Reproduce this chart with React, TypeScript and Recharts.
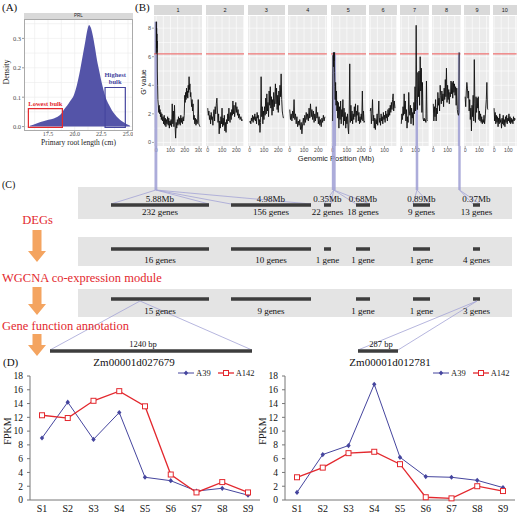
import React from 'react';
import {
  AreaChart, Area, LineChart, Line, ComposedChart, Scatter,
  XAxis, YAxis, CartesianGrid, ReferenceArea, ReferenceLine, Legend,
} from 'recharts';

const SERIF = '"Liberation Serif", "Times New Roman", serif';
const SANS = '"Liberation Sans", Arial, sans-serif';
const RED = '#e3282e';
const BLUE = '#45459e';
const FILL_BLUE = '#5454a8';
const BAND = '#9d9dd3';
const LINK = '#a3a3d6';
const ORANGE = '#f4a460';

// (A) density of primary root length
const rootLength = [15.8, 16.3, 16.8, 17.3, 17.8, 18.3, 18.7, 19.0, 19.3, 19.6, 19.9, 20.2, 20.5, 20.8, 21.0, 21.2, 21.35, 21.5, 21.7, 21.9, 22.1, 22.3, 22.5, 22.7, 22.9, 23.2, 23.5, 23.8, 24.1, 24.4, 24.7, 25.0, 25.2];
const rootDensity = [0.003, 0.009, 0.016, 0.021, 0.025, 0.032, 0.042, 0.058, 0.072, 0.088, 0.105, 0.14, 0.19, 0.25, 0.29, 0.33, 0.346, 0.338, 0.31, 0.27, 0.225, 0.19, 0.155, 0.125, 0.1, 0.075, 0.055, 0.04, 0.028, 0.019, 0.012, 0.006, 0.003];
const lowBulk = [15.66, 18.85, 0.061];
const highBulk = [22.85, 24.75, 0.133];

// (B) G' value along each chromosome, [position Mb, G']
const chromLen = [307, 244, 236, 247, 224, 174, 182, 181, 160, 150];
const chr1 = [[0,6.2],[1,8.45],[2,7.0],[3,8.0],[4,6.6],[5,7.6],[6,6.3],[7,7.1],[8,5.0],[10,4.0],[12,3.0],[15,2.6],[18,2.1],[21,2.6],[24,2.0],[27,2.3],[30,1.8],[33,2.1],[36,1.6],[40,2.0],[44,1.5],[48,1.8],[52,1.3],[56,1.9],[60,1.2],[64,1.7],[68,1.1],[72,1.6],[76,1.3],[80,1.8],[84,1.2],[88,1.7],[92,1.0],[96,1.5],[100,1.2],[104,1.6],[108,1.1],[112,2.7],[116,1.3],[120,2.2],[124,1.1],[128,2.6],[132,1.2],[136,0.3],[140,1.4],[144,1.0],[148,1.6],[152,1.2],[156,1.8],[160,1.3],[164,1.7],[168,1.2],[172,1.9],[176,1.4],[180,1.7],[184,1.3],[188,1.8],[192,1.5],[196,1.9],[200,3.3],[203,2.8],[206,3.5],[209,3.0],[212,3.8],[215,3.2],[218,3.6],[221,3.1],[224,4.0],[227,3.5],[230,4.6],[233,3.7],[236,4.1],[239,3.2],[242,3.5],[245,2.9],[248,2.5],[251,3.0],[254,2.2],[258,2.7],[262,1.6],[266,1.9],[270,1.3],[274,1.7],[278,1.2],[282,1.6],[286,1.3],[290,1.5],[294,3.0],[298,1.3],[302,1.2],[306,1.1]];
const chr2 = [[0,2.4],[4,1.9],[8,2.2],[12,1.6],[16,1.9],[20,1.3],[24,2.1],[28,1.6],[32,1.8],[36,1.2],[40,2.0],[44,2.3],[48,1.5],[52,2.5],[56,2.0],[60,2.7],[64,3.1],[68,2.2],[72,1.4],[76,2.0],[80,0.6],[84,1.5],[88,1.0],[92,1.8],[96,1.3],[100,2.4],[104,1.1],[108,1.7],[112,1.2],[116,1.9],[120,0.8],[124,1.4],[128,0.7],[132,1.6],[136,1.3],[140,2.0],[144,1.5],[148,2.4],[152,1.7],[156,1.4],[160,2.1],[164,1.6],[168,2.3],[172,1.9],[176,2.9],[180,2.0],[184,2.6],[188,1.8],[192,2.2],[196,2.8],[200,2.1],[204,2.5],[208,1.9],[212,2.3],[216,1.7],[220,2.0],[226,1.6],[232,1.8],[238,1.5],[243,1.6]];
const chr3 = [[0,1.4],[4,1.5],[8,1.3],[12,1.7],[16,1.5],[20,1.9],[24,1.4],[28,1.8],[32,1.6],[36,2.0],[40,1.5],[44,1.8],[48,1.3],[52,2.1],[56,1.7],[60,1.9],[64,1.2],[68,1.6],[72,0.7],[76,1.4],[80,4.6],[84,1.8],[88,2.5],[92,1.3],[96,2.2],[100,1.6],[104,2.5],[108,1.9],[112,3.1],[116,2.0],[120,3.4],[124,2.2],[128,2.8],[132,1.8],[136,3.6],[140,2.6],[144,3.9],[148,2.4],[152,3.2],[156,1.9],[160,3.0],[164,2.2],[168,3.5],[172,2.5],[176,3.1],[180,4.1],[184,2.7],[188,3.8],[192,2.3],[196,3.3],[200,2.1],[204,3.6],[208,2.6],[212,4.0],[216,3.2],[220,4.8],[224,3.0],[228,2.2],[232,1.9],[236,1.7]];
const chr4 = [[0,2.3],[5,1.6],[10,2.0],[15,1.5],[20,2.2],[25,1.7],[30,3.0],[35,1.6],[40,2.0],[45,1.3],[50,1.8],[55,1.1],[60,1.5],[65,1.2],[70,1.6],[75,0.9],[80,1.4],[85,0.6],[90,1.3],[95,1.7],[100,1.2],[105,1.9],[110,1.4],[115,2.1],[120,1.6],[125,2.0],[130,1.5],[135,2.4],[140,1.7],[145,2.7],[150,1.8],[155,2.3],[160,1.6],[165,2.2],[170,1.4],[175,2.0],[180,1.5],[185,2.5],[190,1.7],[195,2.1],[200,1.3],[205,1.8],[210,1.2],[215,1.6],[220,1.1],[225,1.7],[230,1.4],[235,1.9],[240,1.5],[246,1.8]];
const chr5 = [[0,1.5],[2,4.8],[4,6.1],[6,5.3],[8,6.3],[10,5.7],[12,6.3],[14,4.9],[16,3.9],[18,3.0],[21,4.2],[24,2.6],[27,3.6],[30,2.2],[33,2.9],[36,1.7],[40,2.8],[44,1.0],[48,2.5],[52,1.6],[56,2.9],[60,1.3],[64,2.3],[68,1.8],[72,3.0],[76,1.2],[80,2.4],[84,1.5],[88,2.1],[92,1.0],[96,1.8],[100,1.3],[104,2.0],[108,1.0],[112,0.6],[116,2.0],[120,5.5],[124,1.4],[128,2.6],[132,1.5],[136,2.2],[140,1.3],[144,2.0],[148,1.6],[152,2.5],[156,1.8],[160,2.7],[164,1.4],[168,2.2],[172,1.9],[176,2.6],[180,1.5],[184,2.1],[188,1.3],[192,1.8],[196,1.4],[200,2.0],[204,1.6],[208,3.6],[212,1.5],[216,2.2],[220,1.4],[223,1.5]];
const chr6 = [[0,2.2],[4,2.4],[8,1.3],[12,2.0],[16,3.0],[20,1.5],[24,1.9],[28,1.0],[32,1.7],[36,0.9],[40,1.6],[44,1.3],[48,2.0],[52,1.2],[56,1.9],[60,2.9],[64,1.4],[68,1.7],[72,1.2],[76,2.0],[80,1.5],[84,1.8],[88,1.3],[92,2.1],[96,1.6],[100,1.9],[104,1.4],[108,2.2],[112,1.7],[116,2.0],[120,1.5],[124,2.3],[128,1.8],[132,2.4],[136,1.9],[140,2.6],[144,2.1],[148,2.8],[152,2.3],[156,3.0],[160,3.4],[164,2.2],[168,2.9],[173,2.4]];
const chr7 = [[0,1.3],[4,2.0],[8,1.6],[12,2.5],[16,1.9],[20,3.4],[24,2.0],[28,2.9],[32,1.5],[36,2.3],[40,1.0],[44,1.8],[48,1.4],[52,3.5],[56,2.2],[60,1.9],[64,2.6],[68,1.3],[72,2.4],[76,1.7],[80,2.1],[84,1.2],[88,2.8],[92,2.0],[96,3.9],[100,2.2],[104,8.2],[108,3.0],[112,2.3],[116,4.9],[120,3.2],[124,5.0],[128,2.6],[132,6.0],[136,3.6],[140,5.2],[144,2.1],[148,4.2],[152,1.7],[156,1.5],[160,1.7],[164,1.5],[168,1.6],[172,1.4],[176,4.3],[180,1.6],[182,1.5]];
const chr8 = [[0,2.7],[4,1.5],[8,2.5],[12,1.8],[16,3.0],[20,1.5],[24,2.4],[28,2.0],[32,3.5],[36,2.6],[40,3.1],[44,2.2],[48,4.0],[52,3.3],[56,2.7],[60,3.6],[64,2.9],[68,3.4],[72,2.5],[76,3.8],[80,3.0],[84,4.4],[88,3.2],[92,5.2],[96,2.8],[100,4.0],[104,3.0],[108,3.7],[112,2.7],[116,3.5],[120,3.2],[124,4.3],[128,3.4],[132,4.2],[136,3.1],[140,4.3],[144,3.5],[148,4.1],[152,3.3],[156,3.9],[160,2.6],[164,3.8],[168,2.3],[172,2.0],[176,1.9],[179,2.1],[181,6.3]];
const chr9 = [[0,3.2],[4,2.5],[8,3.6],[12,4.2],[16,3.8],[20,3.1],[24,3.6],[28,2.2],[32,3.0],[36,1.6],[40,2.4],[44,0.8],[48,2.6],[52,1.8],[56,3.3],[60,1.5],[64,5.8],[68,2.7],[72,1.4],[76,3.2],[80,2.1],[84,3.1],[88,2.4],[92,3.2],[96,1.6],[100,2.2],[104,1.5],[108,2.0],[112,1.4],[116,1.8],[120,1.3],[124,1.6],[128,1.4],[132,1.9],[136,1.3],[140,1.7],[144,2.4],[148,3.0],[152,4.2],[156,2.4],[159,2.3]];
const chr10 = [[0,2.4],[4,1.5],[8,2.1],[12,1.3],[16,1.9],[20,1.4],[24,1.8],[28,1.1],[32,1.7],[36,1.3],[40,2.0],[44,1.4],[48,1.6],[52,1.0],[56,1.7],[60,1.3],[64,1.9],[68,1.2],[72,1.6],[76,1.1],[80,1.8],[84,1.4],[88,1.9],[92,1.3],[96,1.7],[100,1.5],[104,2.0],[108,1.4],[112,1.8],[116,1.3],[120,1.7],[124,1.4],[128,1.6],[132,1.3],[136,1.8],[140,1.5],[144,1.7],[148,1.6]];
const gPrime = [chr1, chr2, chr3, chr4, chr5, chr6, chr7, chr8, chr9, chr10];
const gThreshold = 6.2;
const peakChrom = [1, 5, 7, 8];
const peakStart = [-12, -3, 99, 172];
const peakEnd = [8, 24, 117, 189];
const peakTop = [8.45, 6.3, 3.0, 6.3];

// (C) candidate regions and filtering steps
const regionSize = ['5.88Mb', '4.98Mb', '0.35Mb', '0.68Mb', '0.89Mb', '0.37Mb'];
const regionGenes = [232, 156, 22, 18, 9, 13];
const degGenes = [16, 10, 1, 1, 1, 4];
const moduleGenes = [15, 9, 0, 1, 1, 3];
const regionChrom = [1, 1, 5, 5, 7, 8];
const regionStart = [111, 231, 324, 356, 413, 473];
const regionEnd = [209, 311, 331, 370, 430, 480];
const steps = ['DEGs', 'WGCNA co-expression module', 'Gene function annotation'];
const geneIds = ['Zm00001d027679', 'Zm00001d012781'];
const geneLength = ['1240 bp', '287 bp'];
const geneFrom = [140, 477];
const geneBarStart = [50, 358];
const geneBarEnd = [252, 398];

// (D) expression
const stages = ['S1', 'S2', 'S3', 'S4', 'S5', 'S6', 'S7', 'S8', 'S9'];
const a39Gene1 = [9.0, 14.2, 8.8, 12.7, 3.3, 2.8, 1.3, 1.7, 0.7];
const a142Gene1 = [12.3, 11.9, 14.4, 15.8, 13.6, 3.7, 1.1, 2.6, 1.1];
const a39Gene2 = [1.1, 6.6, 7.9, 16.8, 6.2, 3.4, 3.3, 2.85, 1.8];
const a142Gene2 = [3.3, 4.7, 6.8, 7.0, 5.2, 0.4, 0.24, 2.0, 1.3];

// facet layout for (B)
const B_LEFT = 154, B_PX = 0.143, B_GAP = 3.5;
const facetWidth = (i: number) => chromLen[i] * 1.1 * B_PX;
const facetLeft = chromLen.map((_, i) => {
  let x = B_LEFT;
  for (let j = 0; j < i; j++) x += facetWidth(j) + B_GAP;
  return x;
});
const mbToPx = (chrom: number, mb: number) => facetLeft[chrom - 1] + (mb + 0.05 * chromLen[chrom - 1]) * B_PX;

function VText({ x, y, text, size, font }: { x: number; y: number; text: string; size: number; font: string }) {
  return (
    <div style={{ position: 'absolute', left: x - 50, top: y - 6, width: 100, height: 12, lineHeight: '12px', textAlign: 'center', transform: 'rotate(-90deg)', fontSize: size, fontFamily: font, color: '#222' }}>
      {text}
    </div>
  );
}

function BulkLabel(props: any) {
  const { viewBox, lines, color } = props;
  const cx = viewBox.x + viewBox.width / 2;
  return (
    <text x={cx} y={viewBox.y - 3 - (lines.length - 1) * 7} textAnchor="middle" fontSize={6.5} fontWeight="bold" fill={color} fontFamily={SERIF}>
      {lines.map((l: string, i: number) => <tspan key={i} x={cx} dy={i === 0 ? 0 : 7}>{l}</tspan>)}
    </text>
  );
}

function DensityPanel() {
  const data = rootLength.map((len, i) => ({ len, d: rootDensity[i] }));
  return (
    <>
      <div style={{ position: 'absolute', left: 24, top: 13, width: 109, height: 6, background: '#d9d9d9', borderBottom: '0.7px solid #333', fontSize: 4.5, lineHeight: '6px', textAlign: 'center', fontFamily: SANS, color: '#222' }}>PRL</div>
      <div style={{ position: 'absolute', left: 0, top: 19 }}>
        <AreaChart width={133} height={127} data={data} margin={{ top: 0, right: 0, bottom: 0, left: 0 }}>
          <CartesianGrid stroke="#ebebeb" strokeWidth={0.6} horizontalValues={[0, 0.05, 0.1, 0.15, 0.2, 0.25, 0.3, 0.35]} verticalValues={[16.25, 17.5, 18.75, 20, 21.25, 22.5, 23.75, 25]} />
          <XAxis type="number" dataKey="len" domain={[15.25, 25.47]} allowDataOverflow ticks={[17.5, 20, 22.5, 25]} interval={0}
            tickFormatter={(v: number) => v.toFixed(1)} height={15} tickSize={1.5} tickMargin={-0.5} axisLine={false}
            tickLine={{ stroke: '#333', strokeWidth: 0.5 }} tick={{ fontSize: 6, fill: '#4d4d4d', fontFamily: SERIF }} />
          <YAxis type="number" domain={[-0.015, 0.366]} allowDataOverflow ticks={[0, 0.1, 0.2, 0.3]} interval={0}
            tickFormatter={(v: number) => v.toFixed(1)} width={24} tickSize={2} tickMargin={1} axisLine={false}
            tickLine={{ stroke: '#333', strokeWidth: 0.5 }} tick={{ fontSize: 6.5, fill: '#4d4d4d', fontFamily: SERIF }} />
          <Area type="monotone" dataKey="d" fill={FILL_BLUE} fillOpacity={1} stroke="none" isAnimationActive={false} />
          <ReferenceArea x1={lowBulk[0]} x2={lowBulk[1]} y1={-0.003} y2={lowBulk[2]} fillOpacity={0} stroke={RED} strokeWidth={1.2}
            label={<BulkLabel lines={['Lowest bulk']} color={RED} />} />
          <ReferenceArea x1={highBulk[0]} x2={highBulk[1]} y1={-0.003} y2={highBulk[2]} fillOpacity={0} stroke={BLUE} strokeWidth={1.2}
            label={<BulkLabel lines={['Highest', 'bulk']} color={BLUE} />} />
        </AreaChart>
      </div>
      <div style={{ position: 'absolute', left: 24, top: 19, width: 109, height: 112, border: '0.6px solid #aaa', boxSizing: 'border-box' }} />
      <VText x={7} y={72} text="Density" size={8} font={SERIF} />
      <div style={{ position: 'absolute', left: 24, top: 138, width: 109, textAlign: 'center', fontSize: 7.5, lineHeight: '9px', fontFamily: SERIF, color: '#222' }}>Primary root length (cm)</div>
    </>
  );
}

function Facet({ i }: { i: number }) {
  const len = chromLen[i];
  const w = facetWidth(i);
  const yw = i === 0 ? 22 : 0;
  const data = gPrime[i].map(([pos, g]) => ({ pos, g }));
  const major = len >= 300 ? [0, 100, 200, 300] : len >= 200 ? [0, 100, 200] : [0, 100];
  const minor = [50, 150, 250].filter((v) => v < len * 1.05);
  const peaks = peakChrom.map((c, k) => (c === i + 1 ? k : -1)).filter((k) => k >= 0);
  return (
    <>
      <div style={{ position: 'absolute', left: facetLeft[i], top: 5, width: w, height: 10, background: '#d9d9d9', fontSize: 5.5, lineHeight: '10px', textAlign: 'center', fontFamily: SANS, color: '#1a1a1a' }}>{i + 1}</div>
      <div style={{ position: 'absolute', left: facetLeft[i] - yw, top: 16 }}>
        <LineChart width={w + yw} height={141} data={data} margin={{ top: 0, right: 0, bottom: 0, left: 0 }}>
          <CartesianGrid fill="#ebebeb" stroke="#ffffff" strokeWidth={0.6} horizontalValues={[0, 1, 2, 3, 4, 5, 6, 7, 8]} verticalValues={[...major, ...minor]} />
          <XAxis type="number" dataKey="pos" domain={[-0.05 * len, 1.05 * len]} allowDataOverflow ticks={major} interval={0}
            tickSize={2} tickMargin={0.5} height={11} axisLine={false} tickLine={{ stroke: '#4d4d4d', strokeWidth: 0.5 }}
            tick={{ fontSize: 5.2, fill: '#4d4d4d', fontFamily: SANS }} />
          <YAxis type="number" hide={i !== 0} width={yw} domain={[-0.25, 8.85]} allowDataOverflow ticks={[0, 2, 4, 6, 8]} interval={0}
            tickSize={2} tickMargin={1} axisLine={false} tickLine={{ stroke: '#4d4d4d', strokeWidth: 0.5 }}
            tick={{ fontSize: 5.5, fill: '#4d4d4d', fontFamily: SANS }} />
          {peaks.map((k) => (
            <ReferenceArea key={k} x1={peakStart[k]} x2={peakEnd[k]} y1={-0.25} y2={peakTop[k]} fill={BAND} fillOpacity={0.85} stroke="none" ifOverflow="hidden" />
          ))}
          <ReferenceLine y={gThreshold} stroke="#ef7777" strokeWidth={1.3} />
          <Line type="linear" dataKey="g" stroke="#111" strokeWidth={0.9} dot={false} isAnimationActive={false} />
        </LineChart>
      </div>
    </>
  );
}

const Diamond = ({ cx, cy }: { cx: number; cy: number }) => (
  <path d={`M${cx},${cy - 2.6} L${cx + 2.2},${cy} L${cx},${cy + 2.6} L${cx - 2.2},${cy} Z`} fill={BLUE} />
);
const Square = ({ cx, cy }: { cx: number; cy: number }) => (
  <rect x={cx - 2.5} y={cy - 2.5} width={5} height={5} fill="#fff" stroke={RED} strokeWidth={1} />
);

const FpkmLegend = () => (
  <div style={{ display: 'flex', alignItems: 'center', fontFamily: SERIF, fontSize: 8.5, color: '#222', whiteSpace: 'nowrap', lineHeight: '10px' }}>
    <svg width={16} height={8}><line x1={0} y1={4} x2={16} y2={4} stroke={BLUE} /><Diamond cx={8} cy={4} /></svg>
    <span style={{ marginLeft: 2, marginRight: 7 }}>A39</span>
    <svg width={16} height={8}><line x1={0} y1={4} x2={16} y2={4} stroke={RED} strokeWidth={1.3} /><Square cx={8} cy={4} /></svg>
    <span style={{ marginLeft: 2 }}>A142</span>
  </div>
);

function FpkmChart({ left, a39, a142 }: { left: number; a39: number[]; a142: number[] }) {
  const data = stages.map((stage, i) => ({ stage, A39: a39[i], A142: a142[i] }));
  return (
    <>
      <div style={{ position: 'absolute', left, top: 365 }}>
        <LineChart width={262} height={149} data={data} margin={{ top: 11, right: 2, bottom: 0, left: 0 }}>
          <XAxis dataKey="stage" padding={{ left: 12, right: 12 }} height={14} tickSize={3} tickMargin={2} tickLine={false} interval={0}
            axisLine={{ stroke: '#777' }} tick={{ fontSize: 10, fill: '#111', fontFamily: SERIF }} />
          <YAxis type="number" domain={[0, 18]} ticks={[0, 2, 4, 6, 8, 10, 12, 14, 16, 18]} interval={0} width={30} tickSize={3} tickMargin={4}
            axisLine={{ stroke: '#777' }} tickLine={{ stroke: '#777' }} tick={{ fontSize: 9.5, fill: '#111', fontFamily: SERIF }} />
          <Legend layout="horizontal" verticalAlign="middle" align="center" content={FpkmLegend}
            wrapperStyle={{ top: 3, left: 178, width: 90, height: 12 }} />
          <Line type="linear" dataKey="A39" stroke={BLUE} strokeWidth={1} isAnimationActive={false}
            dot={(p: any) => <Diamond key={p.index} cx={p.cx} cy={p.cy} />} />
          <Line type="linear" dataKey="A142" stroke={RED} strokeWidth={1.3} isAnimationActive={false}
            dot={(p: any) => <Square key={p.index} cx={p.cx} cy={p.cy} />} />
        </LineChart>
      </div>
      <VText x={left + 8} y={431} text="FPKM" size={10} font={SERIF} />
    </>
  );
}

// schematic rows of (C)
const ROW_BAND = [[187, 219], [237, 266], [289, 317]];
const ROW_BAR = [205, 249, 299];
const ROW_LABEL = [212, 260, 311];
const TRACK = [78, 512];
const LINK_TOP = 190;

const regionMid = regionStart.map((s, i) => (s + regionEnd[i]) / 2);
const genesText = (n: number) => `${n} ${n === 1 ? 'gene' : 'genes'}`;
const rowCounts = [regionGenes, degGenes, moduleGenes];
const peakCenterPx = (chrom: number) => {
  const k = peakChrom.indexOf(chrom);
  return (mbToPx(chrom, peakStart[k]) + mbToPx(chrom, peakEnd[k])) / 2;
};

const textItems = [
  { x: 2, y: 7, text: '(A)', size: 11, anchor: 'start' },
  { x: 135, y: 7, text: '(B)', size: 11, anchor: 'start' },
  { x: 2, y: 184, text: '(C)', size: 10, anchor: 'start' },
  { x: 3, y: 362, text: '(D)', size: 11, anchor: 'start' },
  ...regionSize.map((t, i) => ({ x: regionMid[i], y: 199, text: t, size: 9 })),
  ...rowCounts.flatMap((counts, r) =>
    counts.flatMap((n, i) => (n ? [{ x: regionMid[i], y: ROW_LABEL[r], text: genesText(n), size: 9 }] : []))),
  { x: 37.5, y: 220, text: steps[0], size: 12.5, color: RED },
  { x: 2, y: 278, text: steps[1], size: 12.5, color: RED, anchor: 'start' },
  { x: 2, y: 326, text: steps[2], size: 12.5, color: RED, anchor: 'start' },
  { x: 143, y: 344, text: geneLength[0], size: 8.5 },
  { x: 381, y: 344, text: geneLength[1], size: 8.5 },
  { x: 134, y: 362, text: geneIds[0], size: 11 },
  { x: 390, y: 362, text: geneIds[1], size: 11 },
];
const arrowItems = [
  { x: 37, y: 230, len: 32 },
  { x: 37, y: 287, len: 28 },
  { x: 37, y: 334, len: 22 },
];

const TextShape = (p: any) => {
  const d = p.payload;
  return (
    <text x={p.cx} y={p.cy} textAnchor={d.anchor || 'middle'} dominantBaseline="central" fontSize={d.size} fill={d.color || '#111'} fontFamily={SERIF}>
      {d.text}
    </text>
  );
};

const ArrowShape = (p: any) => {
  const { cx, cy } = p;
  const len = p.payload.len;
  const hw = 4.5, hh = 9, hl = 11;
  const d = `M${cx - hw},${cy} L${cx + hw},${cy} L${cx + hw},${cy + len - hl} L${cx + hh},${cy + len - hl} L${cx},${cy + len} L${cx - hh},${cy + len - hl} L${cx - hw},${cy + len - hl} Z`;
  return <path d={d} fill={ORANGE} />;
};

function Schematic() {
  return (
    <div style={{ position: 'absolute', left: 0, top: 0 }}>
      <ComposedChart width={520} height={514} margin={{ top: 0, right: 0, bottom: 0, left: 0 }}>
        <XAxis type="number" dataKey="x" domain={[0, 520]} allowDataOverflow hide />
        <YAxis type="number" dataKey="y" domain={[0, 514]} allowDataOverflow reversed hide />
        {ROW_BAND.map(([y1, y2], r) => (
          <ReferenceArea key={`band${r}`} x1={TRACK[0]} x2={TRACK[1]} y1={y1} y2={y2} fill="#e4e4e4" fillOpacity={1} stroke="none" />
        ))}
        {peakChrom.map((c, k) => (
          <ReferenceArea key={`ext${k}`} x1={mbToPx(c, peakStart[k])} x2={mbToPx(c, peakEnd[k])} y1={146} y2={LINK_TOP}
            fill={BAND} fillOpacity={0.85} stroke="none" />
        ))}
        {regionChrom.flatMap((c, i) => [regionStart[i], regionEnd[i]].map((x, e) => (
          <ReferenceLine key={`lk${i}-${e}`} segment={[{ x: peakCenterPx(c), y: LINK_TOP }, { x, y: ROW_BAR[0] - 1 }]} stroke={LINK} strokeWidth={0.8} />
        )))}
        {rowCounts.flatMap((counts, r) => counts.map((n, i) => (n ? (
          <ReferenceLine key={`bar${r}-${i}`} segment={[{ x: regionStart[i], y: ROW_BAR[r] }, { x: regionEnd[i], y: ROW_BAR[r] }]} stroke="#3d3d3d" strokeWidth={3.5} />
        ) : null)))}
        {geneIds.flatMap((_, g) => [geneBarStart[g], geneBarEnd[g]].map((x, e) => (
          <ReferenceLine key={`gl${g}-${e}`} segment={[{ x: geneFrom[g], y: ROW_BAR[2] + 2 }, { x, y: 350 }]} stroke={LINK} strokeWidth={0.8} />
        )))}
        {geneIds.map((_, g) => (
          <ReferenceLine key={`gb${g}`} segment={[{ x: geneBarStart[g], y: 351 }, { x: geneBarEnd[g], y: 351 }]} stroke="#3d3d3d" strokeWidth={3.5} />
        ))}
        <Scatter data={arrowItems} shape={ArrowShape} isAnimationActive={false} />
        <Scatter data={textItems} shape={TextShape} isAnimationActive={false} />
      </ComposedChart>
    </div>
  );
}

export default function App() {
  return (
    <div style={{ position: 'absolute', left: 0, top: 0, width: 520, height: 514, background: '#fff', overflow: 'hidden' }}>
      <DensityPanel />
      {chromLen.map((_, i) => <Facet key={i} i={i} />)}
      <VText x={144} y={82} text="G' value" size={7} font={SANS} />
      <div style={{ position: 'absolute', left: 236, top: 154, width: 200, textAlign: 'center', fontSize: 7.5, lineHeight: '9px', fontFamily: SANS, color: '#222' }}>Genomic Position (Mb)</div>
      <FpkmChart left={0} a39={a39Gene1} a142={a142Gene1} />
      <FpkmChart left={255} a39={a39Gene2} a142={a142Gene2} />
      <Schematic />
    </div>
  );
}
